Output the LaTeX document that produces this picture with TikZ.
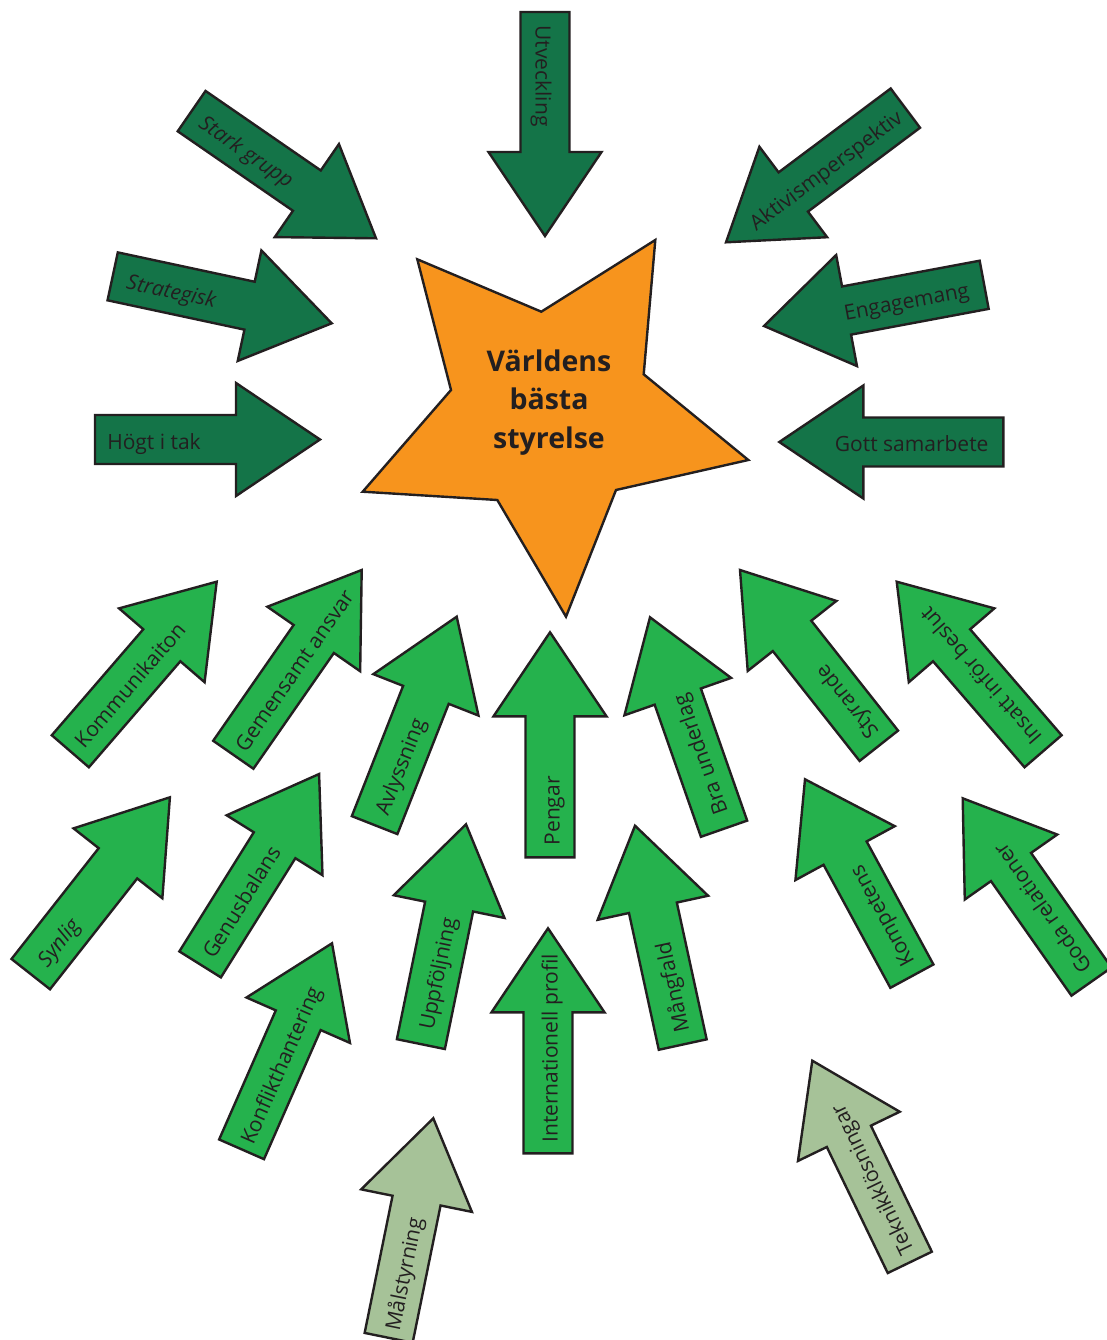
\documentclass[tikz,border=0pt]{standalone}
\usepackage{fontspec}
\setmainfont{Open Sans}
\usepackage{tikz}

\definecolor{darkgreen}{RGB}{20,116,72}
\definecolor{midgreen}{RGB}{37,178,77}
\definecolor{palegreen}{RGB}{166,194,152}
\definecolor{starorange}{RGB}{247,148,29}
\definecolor{inkgray}{RGB}{35,31,32}

\tikzset{
  arrowbody/.style={draw=inkgray,line width=2.4pt},
  darkarrow/.style={arrowbody,fill=darkgreen},
  greenarrow/.style={arrowbody,fill=midgreen},
  palearrow/.style={arrowbody,fill=palegreen},
  arrowlabel/.style={text=inkgray,inner sep=0pt,text height=19pt,text depth=0pt,
                     font=\fontsize{21}{25}\selectfont},
  starlabel/.style={text=inkgray,inner sep=0pt,align=center,
                    font=\bfseries\fontsize{28.5}{38.3}\selectfont}
}

% #1 style, #2 name, #3 tip, #4 direction, #5 length, #6 label distance, #7 label angle, #8 label
\newcommand{\fatarrow}[8]{%
  \begin{scope}[shift={#3},rotate=#4]
    \draw[#1] (0,0) -- (-84,56.5) -- (-84,24.5) -- (-#5,24.5)
              -- (-#5,-24.5) -- (-84,-24.5) -- (-84,-56.5) -- cycle;
    \node[arrowlabel,rotate=#7] (#2) at (-#6,0) {#8};
  \end{scope}}

\begin{document}
\begin{tikzpicture}[x=1pt,y=-1pt]
                      \useasboundingbox (0,0) rectangle (1107,1340);
                      \draw[arrowbody,fill=starorange] (417.3,259.3) -- (541.3,311.7) -- (655.3,240)
                            -- (643.7,374.3) -- (748.3,460) -- (616,490) -- (566,616.7)
                            -- (497.3,500) -- (362.7,491.7) -- (451,390) -- cycle;
                      \node[starlabel] (goal) at (549,402.4) {Världens\\bästa\\styrelse};
                      \fatarrow{darkarrow}{utv}{(545,236)}{-90}{224}{160}{-90}{Utveckling}
                      \fatarrow{darkarrow}{stark}{(376,238.3)}{-34.6}{224}{155.6}{-34.6}{\itshape Stark grupp}
                      \fatarrow{darkarrow}{aktiv}{(726,242.3)}{-143.2}{224}{123}{36.8}{Aktivismperspektiv}
                      \fatarrow{darkarrow}{strat}{(331.7,323.3)}{-12.1}{224}{163.4}{-12.1}{\itshape Strategisk}
                      \fatarrow{darkarrow}{hogt}{(320,439.5)}{0}{225}{166}{0}{Högt i tak}
                      \fatarrow{darkarrow}{engag}{(764,326)}{190.6}{224}{144.5}{10.6}{Engagemang}
                      \fatarrow{darkarrow}{gott}{(779.3,442)}{180}{224}{132.4}{0}{Gott samarbete}
                      \fatarrow{greenarrow}{komm}{(216.7,581.7)}{49.2}{224}{135}{49.2}{Kommunikaiton}
                      \fatarrow{greenarrow}{gemen}{(361.7,570)}{55.2}{225}{121}{55.2}{Gemensamt ansvar}
                      \fatarrow{greenarrow}{avlys}{(456.7,616.7)}{68.5}{224}{160}{68.5}{Avlyssning}
                      \fatarrow{greenarrow}{pengar}{(550,632.3)}{90}{225}{178.5}{90}{Pengar}
                      \fatarrow{greenarrow}{bra}{(650,617.3)}{109.3}{224}{146}{109.3}{Bra underlag}
                      \fatarrow{greenarrow}{styr}{(740,570)}{128.3}{224}{169.5}{128.3}{Styrande}
                      \fatarrow{greenarrow}{insatt}{(896.7,581.7)}{130.8}{224}{126.3}{130.8}{Insatt inför beslut}
                      \fatarrow{greenarrow}{synlig}{(169.9,797.3)}{51.8}{225}{183}{51.8}{\itshape Synlig}
                      \fatarrow{greenarrow}{genus}{(319.1,774)}{58}{224.5}{149.7}{58}{Genusbalans}
                      \fatarrow{greenarrow}{uppf}{(466,824.3)}{78.4}{224.4}{152}{78.4}{Uppföljning}
                      \fatarrow{greenarrow}{mangf}{(635,825.7)}{102.3}{224}{166}{102.3}{Mångfald}
                      \fatarrow{greenarrow}{komp}{(805,779.3)}{118.5}{224}{157}{118.5}{Kompetens}
                      \fatarrow{greenarrow}{goda}{(962.7,798.3)}{125.1}{224}{135.8}{125.1}{Goda relationer}
                      \fatarrow{greenarrow}{konfl}{(332,943.3)}{66.3}{225}{132.3}{66.3}{Konflikthantering}
                      \fatarrow{greenarrow}{intern}{(548,928.3)}{90}{225}{120}{90}{Internationell profil}
                      \fatarrow{palearrow}{malst}{(433.3,1118.3)}{78.5}{224}{158.5}{78.5}{Målstyrning}
                      \fatarrow{palearrow}{teknik}{(812.3,1060.7)}{115.8}{224}{133}{115.8}{Teknikklösningar}
                  \end{tikzpicture}
\end{document}
